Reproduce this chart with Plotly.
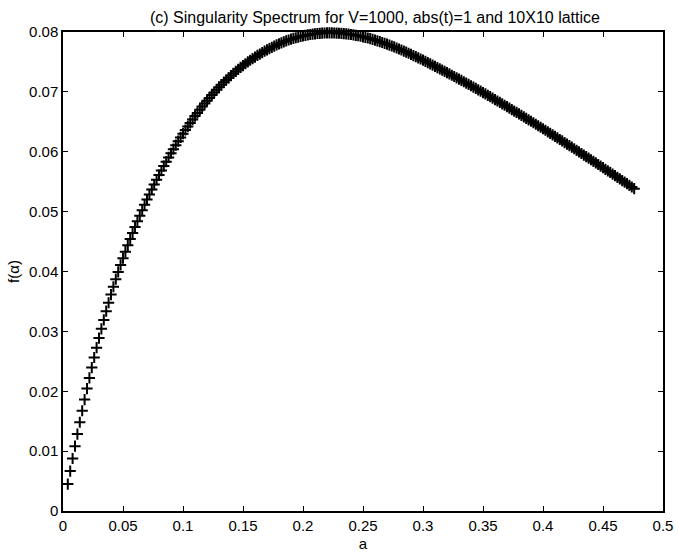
import plotly.graph_objects as go

# alpha values (x)
alpha = [
    0.004, 0.006, 0.008, 0.010, 0.012, 0.014, 0.016, 0.018, 0.020, 0.022,
    0.024, 0.026, 0.028, 0.030, 0.032, 0.034, 0.036, 0.038, 0.040, 0.042,
    0.044, 0.046, 0.048, 0.050, 0.052, 0.054, 0.056, 0.058, 0.060, 0.062,
    0.064, 0.066, 0.068, 0.070, 0.072, 0.074, 0.076, 0.078, 0.080, 0.082,
    0.084, 0.086, 0.088, 0.090, 0.092, 0.094, 0.096, 0.098, 0.100, 0.102,
    0.104, 0.106, 0.108, 0.110, 0.112, 0.114, 0.116, 0.118, 0.120, 0.122,
    0.124, 0.126, 0.128, 0.130, 0.132, 0.134, 0.136, 0.138, 0.140, 0.142,
    0.144, 0.146, 0.148, 0.150, 0.152, 0.154, 0.156, 0.158, 0.160, 0.162,
    0.164, 0.166, 0.168, 0.170, 0.172, 0.174, 0.176, 0.178, 0.180, 0.182,
    0.184, 0.186, 0.188, 0.190, 0.192, 0.194, 0.196, 0.198, 0.200, 0.202,
    0.204, 0.206, 0.208, 0.210, 0.212, 0.214, 0.216, 0.218, 0.220, 0.222,
    0.224, 0.226, 0.228, 0.230, 0.232, 0.234, 0.236, 0.238, 0.240, 0.242,
    0.244, 0.246, 0.248, 0.250, 0.252, 0.254, 0.256, 0.258, 0.260, 0.262,
    0.264, 0.266, 0.268, 0.270, 0.272, 0.274, 0.276, 0.278, 0.280, 0.282,
    0.284, 0.286, 0.288, 0.290, 0.292, 0.294, 0.296, 0.298, 0.300, 0.302,
    0.304, 0.306, 0.308, 0.310, 0.312, 0.314, 0.316, 0.318, 0.320, 0.322,
    0.324, 0.326, 0.328, 0.330, 0.332, 0.334, 0.336, 0.338, 0.340, 0.342,
    0.344, 0.346, 0.348, 0.350, 0.352, 0.354, 0.356, 0.358, 0.360, 0.362,
    0.364, 0.366, 0.368, 0.370, 0.372, 0.374, 0.376, 0.378, 0.380, 0.382,
    0.384, 0.386, 0.388, 0.390, 0.392, 0.394, 0.396, 0.398, 0.400, 0.402,
    0.404, 0.406, 0.408, 0.410, 0.412, 0.414, 0.416, 0.418, 0.420, 0.422,
    0.424, 0.426, 0.428, 0.430, 0.432, 0.434, 0.436, 0.438, 0.440, 0.442,
    0.444, 0.446, 0.448, 0.450, 0.452, 0.454, 0.456, 0.458, 0.460, 0.462,
    0.464, 0.466, 0.468, 0.470, 0.472, 0.474, 0.476,
]

# f(alpha) values (y)
f_alpha = [
    0.00450, 0.00666, 0.00877, 0.01083, 0.01285, 0.01482, 0.01674, 0.01861, 0.02044, 0.02222,
    0.02396, 0.02564, 0.02728, 0.02888, 0.03042, 0.03192, 0.03337, 0.03478, 0.03614, 0.03745,
    0.03871, 0.03993, 0.04110, 0.04222, 0.04331, 0.04437, 0.04541, 0.04643, 0.04742, 0.04839,
    0.04933, 0.05025, 0.05115, 0.05202, 0.05287, 0.05370, 0.05452, 0.05532, 0.05610, 0.05686,
    0.05761, 0.05834, 0.05905, 0.05975, 0.06043, 0.06110, 0.06176, 0.06240, 0.06302, 0.06363,
    0.06423, 0.06482, 0.06539, 0.06595, 0.06649, 0.06702, 0.06754, 0.06804, 0.06852, 0.06899,
    0.06946, 0.06991, 0.07035, 0.07077, 0.07118, 0.07159, 0.07198, 0.07235, 0.07272, 0.07308,
    0.07342, 0.07376, 0.07408, 0.07440, 0.07470, 0.07500, 0.07528, 0.07556, 0.07582, 0.07608,
    0.07632, 0.07656, 0.07680, 0.07702, 0.07724, 0.07744, 0.07764, 0.07784, 0.07802, 0.07820,
    0.07836, 0.07852, 0.07866, 0.07880, 0.07893, 0.07904, 0.07915, 0.07926, 0.07935, 0.07944,
    0.07951, 0.07958, 0.07965, 0.07970, 0.07975, 0.07978, 0.07981, 0.07983, 0.07985, 0.07985,
    0.07984, 0.07983, 0.07981, 0.07979, 0.07976, 0.07973, 0.07969, 0.07964, 0.07958, 0.07952,
    0.07945, 0.07937, 0.07929, 0.07920, 0.07910, 0.07900, 0.07889, 0.07877, 0.07865, 0.07852,
    0.07839, 0.07825, 0.07811, 0.07797, 0.07781, 0.07766, 0.07750, 0.07733, 0.07716, 0.07699,
    0.07681, 0.07663, 0.07645, 0.07626, 0.07607, 0.07588, 0.07568, 0.07549, 0.07529, 0.07509,
    0.07489, 0.07468, 0.07448, 0.07427, 0.07406, 0.07385, 0.07364, 0.07343, 0.07322, 0.07300,
    0.07278, 0.07257, 0.07235, 0.07213, 0.07191, 0.07169, 0.07146, 0.07124, 0.07102, 0.07079,
    0.07057, 0.07034, 0.07011, 0.06989, 0.06965, 0.06942, 0.06919, 0.06895, 0.06872, 0.06848,
    0.06824, 0.06801, 0.06777, 0.06753, 0.06729, 0.06705, 0.06680, 0.06656, 0.06632, 0.06607,
    0.06583, 0.06558, 0.06534, 0.06509, 0.06484, 0.06459, 0.06434, 0.06409, 0.06384, 0.06359,
    0.06333, 0.06308, 0.06282, 0.06257, 0.06231, 0.06205, 0.06180, 0.06154, 0.06128, 0.06102,
    0.06076, 0.06050, 0.06024, 0.05998, 0.05971, 0.05945, 0.05919, 0.05892, 0.05866, 0.05840,
    0.05813, 0.05787, 0.05760, 0.05734, 0.05707, 0.05680, 0.05654, 0.05627, 0.05600, 0.05573,
    0.05546, 0.05519, 0.05492, 0.05466, 0.05438, 0.05411, 0.05384,
]

x_ticks = [0, 0.05, 0.1, 0.15, 0.2, 0.25, 0.3, 0.35, 0.4, 0.45, 0.5]
x_tick_text = ["0", "0.05", "0.1", "0.15", "0.2", "0.25", "0.3", "0.35", "0.4", "0.45", "0.5"]
y_ticks = [0, 0.01, 0.02, 0.03, 0.04, 0.05, 0.06, 0.07, 0.08]
y_tick_text = ["0", "0.01", "0.02", "0.03", "0.04", "0.05", "0.06", "0.07", "0.08"]

title_text = "(c) Singularity Spectrum for V=1000, abs(t)=1 and 10X10 lattice"

fig = go.Figure()
fig.add_trace(go.Scatter(
    x=alpha, y=f_alpha, mode="markers",
    marker=dict(symbol="cross-thin", size=8, color="black",
                line=dict(color="black", width=2)),
    cliponaxis=False,
    showlegend=False,
))

font_family = "Liberation Sans, Arial, sans-serif"
axis_common = dict(
    showline=True, linecolor="black", linewidth=1.5, mirror="ticks",
    ticks="inside", ticklen=5, tickwidth=1, tickcolor="black",
    showgrid=False, zeroline=False, automargin=False,
    tickfont=dict(family=font_family, size=15, color="black"),
)

fig.update_layout(
    width=678, height=553,
    margin=dict(l=63, r=15, t=32, b=42),
    paper_bgcolor="white", plot_bgcolor="white",
    title=dict(text=title_text, x=0.553, xanchor="center", y=0.969, yanchor="middle",
               font=dict(family=font_family, size=16, color="black")),
    xaxis=dict(range=[0, 0.5], tickvals=x_ticks, ticktext=x_tick_text,
               title=dict(text="a", font=dict(family=font_family, size=15, color="black"),
                          standoff=6),
               **axis_common),
    yaxis=dict(range=[0, 0.08], tickvals=y_ticks, ticktext=y_tick_text,
               title=dict(text="f(α)", font=dict(family=font_family, size=15, color="black"),
                          standoff=6),
               **axis_common),
)

fig.write_html("out.html")
